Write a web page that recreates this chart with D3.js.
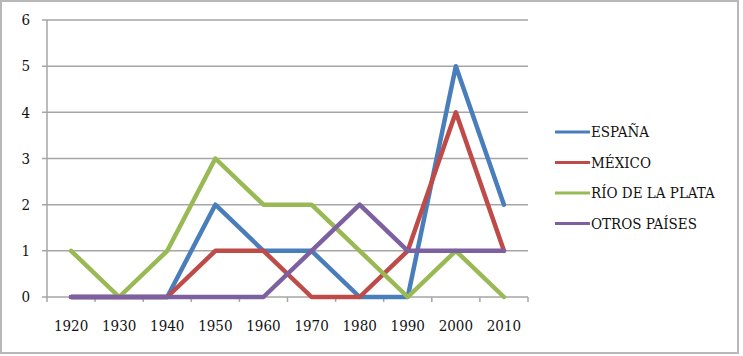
<!DOCTYPE html>
<html><head><meta charset="utf-8">
<script src="https://cdn.jsdelivr.net/npm/d3@7/dist/d3.min.js"></script>
<style>body{margin:0;background:#fff}svg{display:block}
svg text{font-family:"DejaVu Serif Condensed","DejaVu Serif",serif;}</style>
</head><body>
<script>
const categories = ["1920","1930","1940","1950","1960","1970","1980","1990","2000","2010"];
const seriesNames = ["ESPAÑA","MÉXICO","RÍO DE LA PLATA","OTROS PAÍSES"];
const espana = [0,0,0,2,1,1,0,0,5,2];
const mexico = [0,0,0,1,1,0,0,1,4,1];
const rioDeLaPlata = [1,0,1,3,2,2,1,0,1,0];
const otrosPaises = [0,0,0,0,0,1,2,1,1,1];
const yTicks = [0,1,2,3,4,5,6];
const colors = ["#4a7ebb","#be4b48","#98b954","#7d60a0"];
const series = [espana, mexico, rioDeLaPlata, otrosPaises];

(function(){
const W = 743, H = 356;
const svg = d3.select("body").append("svg").attr("width", W).attr("height", H);
svg.append("rect").attr("x",1).attr("y",1).attr("width",737).attr("height",352)
  .attr("fill","#fff").attr("stroke","#b8b8b8").attr("stroke-width",2);

const pLeft = 47, pRight = 528, pTop = 20, pBottom = 297;
const x = d3.scaleBand().domain(categories).range([pLeft, pRight]);
const y = d3.scaleLinear().domain([0, 6]).range([pBottom, pTop]);

svg.append("g").selectAll("line").data(yTicks).join("line")
  .attr("x1", pLeft - 5).attr("x2", pRight)
  .attr("y1", d => y(d)).attr("y2", d => y(d))
  .attr("stroke", "#a6a6a6").attr("stroke-width", 1.5);
svg.append("line").attr("x1", pLeft).attr("x2", pLeft).attr("y1", pTop).attr("y2", pBottom)
  .attr("stroke", "#a6a6a6").attr("stroke-width", 1.5);
const bounds = categories.map(c => x(c)).concat([pRight]);
svg.append("g").selectAll("line").data(bounds).join("line")
  .attr("x1", d => d).attr("x2", d => d).attr("y1", pBottom).attr("y2", pBottom + 5)
  .attr("stroke", "#a6a6a6").attr("stroke-width", 1.5);
svg.append("g").selectAll("text").data(yTicks).join("text")
  .attr("x", 30).attr("y", d => y(d)).attr("dy", "0.35em").attr("text-anchor", "end")
  .attr("font-size", 15).attr("fill", "#111").text(d => d);
svg.append("g").selectAll("text").data(categories).join("text")
  .attr("x", d => x(d) + x.bandwidth()/2).attr("y", 326).attr("dy", "0.35em")
  .attr("text-anchor", "middle").attr("font-size", 15)
  .attr("fill", "#111").text(d => d);

const line = d3.line().x((d, i) => x(categories[i]) + x.bandwidth()/2).y(d => y(d));
series.forEach((s, k) => {
  svg.append("path").datum(s).attr("d", line).attr("fill", "none")
    .attr("stroke", colors[k]).attr("stroke-width", 4.5)
    .attr("stroke-linejoin", "round").attr("stroke-linecap", "round");
});

const lg = svg.append("g");
seriesNames.forEach((n, k) => {
  const ly = 132 + k * 30.5;
  lg.append("line").attr("x1", 555).attr("x2", 590).attr("y1", ly).attr("y2", ly)
    .attr("stroke", colors[k]).attr("stroke-width", 3);
  lg.append("text").attr("x", 591).attr("y", ly).attr("dy", "0.35em")
    .attr("font-size", 15).attr("fill", "#111").text(n);
});
})();
</script>
</body></html>
